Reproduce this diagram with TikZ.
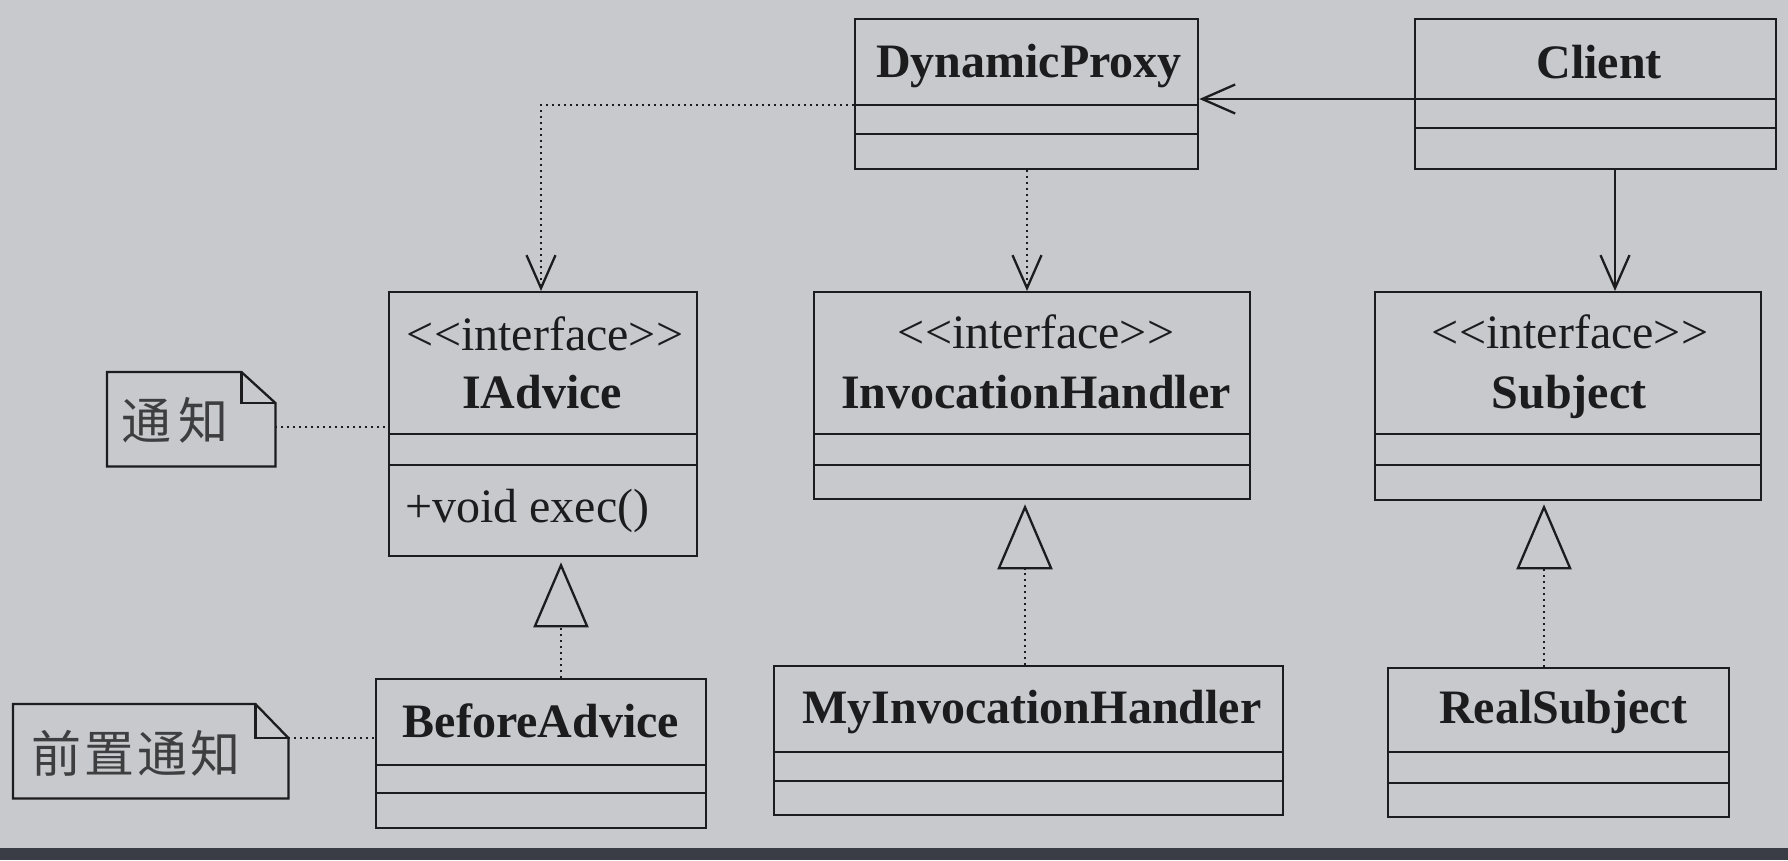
\documentclass[tikz,border=0pt]{standalone}
\usepackage{fontspec}
\setmainfont{Liberation Serif}
\newfontfamily\cjkfont{Noto Sans CJK SC}
\usetikzlibrary{arrows.meta}
\definecolor{bg}{HTML}{C8C9CD}
\definecolor{band}{HTML}{3A3D46}
\definecolor{ink}{HTML}{1C1C1E}
\begin{document}
\begin{tikzpicture}[x=1pt,y=-1pt,
  cls/.style={draw=ink, line width=2.3pt, rectangle, inner sep=0pt, anchor=north west},
  bname/.style={font=\fontsize{48}{48}\selectfont\bfseries, text=ink, anchor=base, inner sep=0pt},
  stereo/.style={font=\fontsize{48}{48}\selectfont, text=ink, anchor=base, inner sep=0pt},
  oper/.style={font=\fontsize{48}{48}\selectfont, text=ink, anchor=base west, inner sep=0pt},
  notebox/.style={rectangle, inner sep=0pt, anchor=north west},
  notetext/.style={font=\cjkfont\fontsize{50}{50}\selectfont, text=ink!85, inner sep=0pt},
  solidl/.style={line width=2.3pt, draw=ink},
  dotl/.style={line width=2pt, dash pattern=on 2pt off 4pt, draw=ink},
  vhead/.style={-{Straight Barb[length=33pt,width=29pt,line width=2.3pt]}},
  realize/.style={-{Triangle[open,length=65pt,width=55pt,line width=2.3pt]}}
]
\useasboundingbox (0,0) rectangle (1788,860);
\fill[bg] (0,0) rectangle (1788,860);
\fill[band] (0,848) rectangle (1788,860);

% class boxes
\node[cls, minimum width=343pt, minimum height=150pt] (dp) at (854,18) {};
\node[cls, minimum width=361pt, minimum height=150pt] (client) at (1414,18) {};
\node[cls, minimum width=308pt, minimum height=264pt] (iadv) at (388,291) {};
\node[cls, minimum width=436pt, minimum height=207pt] (ih) at (813,291) {};
\node[cls, minimum width=386pt, minimum height=208pt] (subj) at (1374,291) {};
\node[cls, minimum width=330pt, minimum height=149pt] (ba) at (375,678) {};
\node[cls, minimum width=509pt, minimum height=149pt] (myih) at (773,665) {};
\node[cls, minimum width=341pt, minimum height=149pt] (rs) at (1387,667) {};

% compartment lines
\foreach \n/\ya/\yb in {dp/105/134, client/99/128, iadv/434/465, ih/434/465, subj/434/465, ba/765/793, myih/752/781, rs/752/783}{
  \draw[solidl] (\n.west |- 0,\ya) -- (\n.east |- 0,\ya);
  \draw[solidl] (\n.west |- 0,\yb) -- (\n.east |- 0,\yb);
}

% texts
\node[bname] (dptxt) at (1029,77) {DynamicProxy};
\node[bname] (clienttxt) at (1599,78) {Client};
\node[stereo] (iadvst) at (545,350) {<\kern0pt<interface>\kern0pt>};
\node[bname] (iadvtxt) at (542,408) {IAdvice};
\node[oper] (iadvop) at (405,522) {+void exec()};
\node[stereo] (ihst) at (1036,348) {<\kern0pt<interface>\kern0pt>};
\node[bname] (ihtxt) at (1036,408) {InvocationHandler};
\node[stereo] (subjst) at (1570,348) {<\kern0pt<interface>\kern0pt>};
\node[bname] (subjtxt) at (1569,408) {Subject};
\node[bname] (batxt) at (541,737) {BeforeAdvice};
\node[bname] (myihtxt) at (1032,723) {MyInvocationHandler};
\node[bname] (rstxt) at (1563,723) {RealSubject};

% notes
\node[notebox, minimum width=168pt, minimum height=94pt] (note1) at (107,372) {};
\draw[solidl] (note1.north west) -- ([xshift=-34pt]note1.north east) -- ([yshift=-31pt]note1.north east) -- (note1.south east) -- (note1.south west) -- cycle;
\draw[solidl] ([xshift=-34pt]note1.north east) -- ([xshift=-34pt,yshift=-31pt]note1.north east) -- ([yshift=-31pt]note1.north east);
\node[notetext] (note1txt) at (175,420) {通\kern7pt知};

\node[notebox, minimum width=275pt, minimum height=94pt] (note2) at (13,704) {};
\draw[solidl] (note2.north west) -- ([xshift=-33pt]note2.north east) -- ([yshift=-34pt]note2.north east) -- (note2.south east) -- (note2.south west) -- cycle;
\draw[solidl] ([xshift=-33pt]note2.north east) -- ([xshift=-33pt,yshift=-34pt]note2.north east) -- ([yshift=-34pt]note2.north east);
\node[notetext] (note2txt) at (136,753) {前\kern3pt置\kern3pt通\kern3pt知};

% connectors
\draw[solidl, vhead] (client.west |- 0,99) -- (dp.east |- 0,99);
\draw[solidl, vhead] (client.south -| 1615,0) -- (subj.north -| 1615,0);
\draw[dotl, vhead] (dp.west |- 0,105) -| (iadv.north -| 541,0);
\draw[dotl, vhead] (dp.south -| 1027,0) -- (ih.north -| 1027,0);
\draw[dotl, realize, shorten >=5pt] (ba.north -| 561,0) -- (iadv.south -| 561,0);
\draw[dotl, realize, shorten >=4pt] (myih.north -| 1025,0) -- (ih.south -| 1025,0);
\draw[dotl, realize, shorten >=3pt] (rs.north -| 1544,0) -- (subj.south -| 1544,0);
\draw[dotl] (note1.east |- 0,427) -- (iadv.west |- 0,427);
\draw[dotl] (note2.east |- 0,738) -- (ba.west |- 0,738);
\end{tikzpicture}
\end{document}
